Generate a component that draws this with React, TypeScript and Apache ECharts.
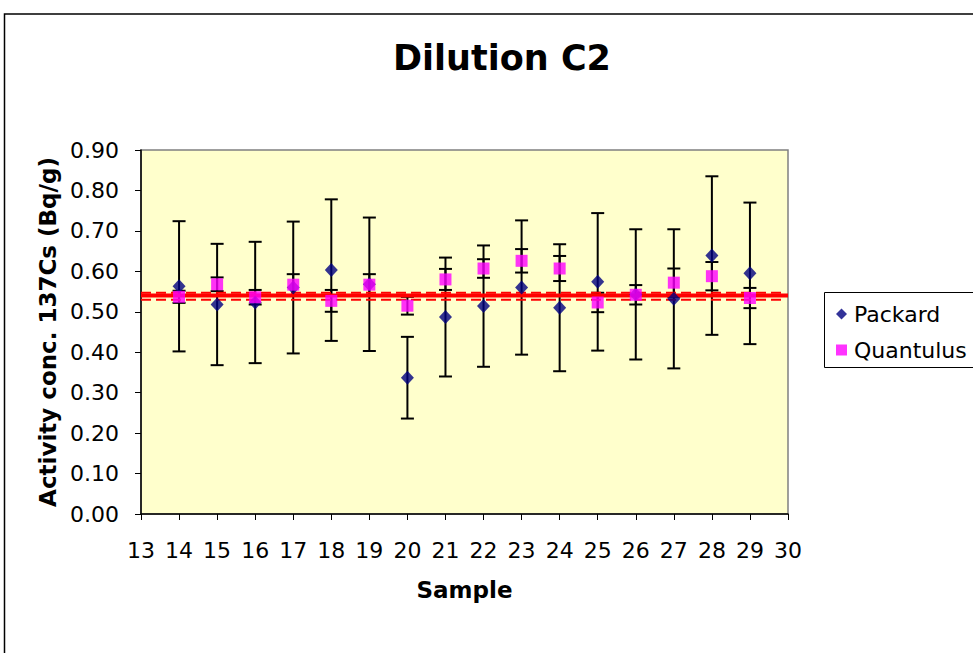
import React, { useEffect, useRef } from "react";
import * as echarts from "echarts";

const samples = [14, 15, 16, 17, 18, 19, 20, 21, 22, 23, 24, 25, 26, 27, 28, 29];
const packardValues = [0.563, 0.518, 0.523, 0.56, 0.603, 0.568, 0.337, 0.487, 0.514, 0.56, 0.51, 0.574, 0.543, 0.532, 0.639, 0.595];
const packardErrors = [0.161, 0.15, 0.15, 0.163, 0.175, 0.165, 0.101, 0.147, 0.15, 0.166, 0.157, 0.17, 0.161, 0.172, 0.196, 0.175];
const quantulusValues = [0.537, 0.568, 0.536, 0.567, 0.527, 0.567, 0.515, 0.58, 0.607, 0.626, 0.607, 0.523, 0.542, 0.572, 0.588, 0.534];
const quantulusErrors = [0.015, 0.017, 0.018, 0.026, 0.027, 0.026, 0.022, 0.026, 0.023, 0.029, 0.031, 0.024, 0.024, 0.035, 0.035, 0.025];
const refMean = 0.54;
const refUpper = 0.547;
const refLower = 0.53;
const xRange = [13, 30];
const yRange = [0, 0.9];

const FONT = "'DejaVu Sans', Verdana, sans-serif";

function errorSeries(name: string, vals: number[], errs: number[], z: number) {
  return {
    type: "custom",
    name,
    z,
    silent: true,
    data: samples.map((s, i) => [s, vals[i] - errs[i], vals[i] + errs[i]]),
    renderItem: (_params: any, api: any) => {
      const x = api.value(0);
      const pLo = api.coord([x, api.value(1)]);
      const pHi = api.coord([x, api.value(2)]);
      const hw = 6.5;
      const style = { stroke: "#000", lineWidth: 2 };
      return {
        type: "group",
        children: [
          { type: "line", shape: { x1: pHi[0], y1: pHi[1], x2: pLo[0], y2: pLo[1] }, style },
          { type: "line", shape: { x1: pHi[0] - hw, y1: pHi[1], x2: pHi[0] + hw, y2: pHi[1] }, style },
          { type: "line", shape: { x1: pLo[0] - hw, y1: pLo[1], x2: pLo[0] + hw, y2: pLo[1] }, style },
        ],
      };
    },
  };
}

export default function App() {
  const ref = useRef<HTMLDivElement>(null);
  useEffect(() => {
    if (!ref.current) return;
    const chart = echarts.init(ref.current, null, { renderer: "svg" });
    chart.setOption({
      animation: false,
      backgroundColor: "#ffffff",
      textStyle: { fontFamily: FONT },
      title: {
        text: "Dilution C2",
        left: 497,
        textAlign: "center",
        top: 35,
        textStyle: { fontSize: 35, fontWeight: "bold", color: "#000", fontFamily: FONT },
      },
      graphic: [
        {
          type: "rect",
          z: -10,
          shape: { x: 4.5, y: 14, width: 1100, height: 800 },
          style: { fill: "none", stroke: "#000", lineWidth: 1.5 },
        },
        {
          type: "rect",
          z: 1,
          shape: { x: 824.5, y: 292.5, width: 200, height: 75 },
          style: { fill: "#fff", stroke: "#000", lineWidth: 1 },
        },
      ],
      legend: {
        orient: "vertical",
        left: 824,
        top: 292,
        padding: [9, 4, 4, 12],
        itemGap: 10,
        itemWidth: 11,
        itemHeight: 11,
        borderWidth: 0,
        textStyle: { fontSize: 22, color: "#000", fontFamily: FONT, lineHeight: 26, padding: [0, 0, 0, 2] },
        data: [
          { name: "Packard", icon: "diamond" },
          { name: "Quantulus", icon: "rect" },
        ],
      },
      grid: {
        left: 141,
        top: 150,
        width: 647,
        height: 364,
        containLabel: false,
        outerBoundsMode: "none",
        show: true,
        backgroundColor: "#FFFFCC",
        borderColor: "#808080",
        borderWidth: 1.5,
      },
      xAxis: {
        type: "value",
        min: xRange[0],
        max: xRange[1],
        interval: 1,
        name: "Sample",
        nameLocation: "middle",
        nameGap: 64,
        nameTextStyle: { fontSize: 23, fontWeight: "bold", color: "#000", fontFamily: FONT },
        axisLine: { show: true, onZero: false, lineStyle: { color: "#000", width: 1.5 } },
        axisTick: { show: true, inside: false, length: 6, lineStyle: { color: "#000", width: 1 } },
        axisLabel: { fontSize: 22, color: "#000", margin: 25, fontFamily: FONT },
        splitLine: { show: false },
      },
      yAxis: {
        type: "value",
        min: yRange[0],
        max: yRange[1],
        interval: 0.1,
        name: "Activity conc. 137Cs (Bq/g)",
        nameLocation: "middle",
        nameGap: 80,
        nameTextStyle: { fontSize: 23, fontWeight: "bold", color: "#000", fontFamily: FONT },
        axisLine: { show: true, onZero: false, lineStyle: { color: "#000", width: 1.5 } },
        axisTick: { show: true, inside: false, length: 6, lineStyle: { color: "#000", width: 1 } },
        axisLabel: {
          fontSize: 22,
          color: "#000",
          margin: 22,
          fontFamily: FONT,
          formatter: (v: number) => v.toFixed(2),
        },
        splitLine: { show: false },
      },
      series: [
        errorSeries("PackardErr", packardValues, packardErrors, 1),
        errorSeries("QuantulusErr", quantulusValues, quantulusErrors, 1),
        {
          type: "line",
          name: "Mean",
          z: 2,
          silent: true,
          showSymbol: false,
          data: [[xRange[0], refMean], [xRange[1], refMean]],
          lineStyle: { color: "#FF0000", width: 4 },
        },
        {
          type: "line",
          name: "Upper",
          z: 2,
          silent: true,
          showSymbol: false,
          data: [[xRange[0], refUpper], [xRange[1] - 0.1, refUpper]],
          lineStyle: { color: "#FF0000", width: 2, type: [10, 5] },
        },
        {
          type: "line",
          name: "Lower",
          z: 2,
          silent: true,
          showSymbol: false,
          data: [[xRange[0], refLower], [xRange[1] - 0.1, refLower]],
          lineStyle: { color: "#FF0000", width: 2, type: [10, 5] },
        },
        {
          type: "scatter",
          name: "Packard",
          z: 3,
          symbol: "diamond",
          symbolSize: [13, 14],
          itemStyle: { color: "#000080" },
          data: samples.map((s, i) => [s, packardValues[i]]),
        },
        {
          type: "scatter",
          name: "Quantulus",
          z: 4,
          symbol: "rect",
          symbolSize: 12,
          itemStyle: { color: "#FF00FF" },
          data: samples.map((s, i) => [s, quantulusValues[i]]),
        },
      ],
    });
    return () => chart.dispose();
  }, []);
  return (
    <div
      ref={ref}
      style={{ position: "fixed", left: 0, top: 0, width: 973, height: 653, background: "#fff" }}
    />
  );
}
